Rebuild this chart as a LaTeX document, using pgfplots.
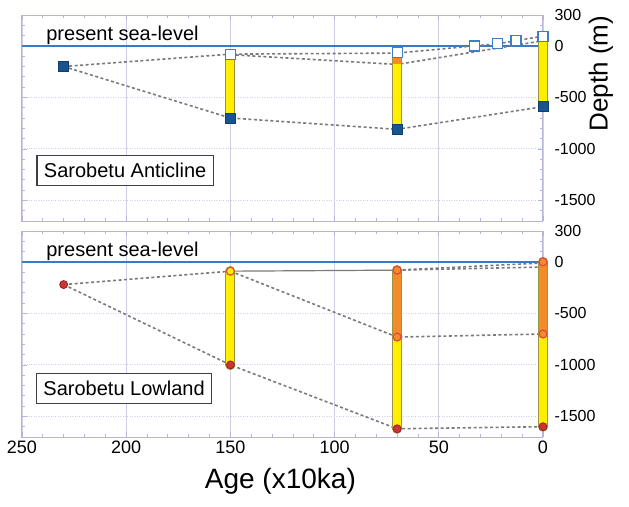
\documentclass[border=0pt]{standalone}
\usepackage{fontspec}
\setmainfont{Liberation Sans}
\usepackage{pgfplots}
\pgfplotsset{compat=1.18}
\definecolor{sealine}{HTML}{3A78C8}
\definecolor{sqfill}{HTML}{17558F}
\definecolor{sqedge}{HTML}{0E3F70}
\definecolor{opsq}{HTML}{3C7FC7}
\definecolor{ycol}{HTML}{FFEE00}
\definecolor{ycoledge}{HTML}{9C9440}
\definecolor{ocol}{HTML}{F28C28}
\definecolor{rfill}{HTML}{CC3333}
\definecolor{redge}{HTML}{992222}
\definecolor{ropen}{HTML}{E04A3A}
\definecolor{dgray}{HTML}{7A7A7A}
\definecolor{lav}{HTML}{B4B4DC}
\definecolor{lavgrid}{HTML}{CFCFEA}
\pgfplotsset{
  panel/.style={
    scale only axis, width=521pt, height=206pt,
    x dir=reverse, xmin=0, xmax=250, ymin=-1700, ymax=300,
    xtick={0,50,...,250}, minor xtick={0,10,...,250},
    ytick={-1500,-1000,-500,0,300}, minor ytick={-1700,-1600,...,300},
    yticklabel pos=right,
    axis line style={lav, line width=1pt},
    tick style={lav, line width=0.8pt},
    major tick length=5pt, minor tick length=3pt,
    xmajorgrids, ymajorgrids,
    major x grid style={lavgrid, line width=0.8pt},
    major y grid style={lavgrid, dotted, line width=1pt},
    /pgf/number format/assume math mode=true,
    /pgf/number format/1000 sep={},
    yticklabel style={font=\fontsize{16}{18}\selectfont, xshift=8pt},
    xticklabel style={font=\fontsize{18}{20}\selectfont},
    clip=false,
  },
  dline/.style={color=dgray, mark=none, line width=1.6pt, dash pattern=on 3pt off 2.5pt},
  sline/.style={color=dgray, mark=none, line width=1.2pt},
  barE/.style={color=ycoledge, mark=none, line width=10pt, line cap=butt},
  barY/.style={color=ycol, mark=none, line width=8pt, line cap=butt},
  barO/.style={color=ocol, mark=none, line width=8pt, line cap=butt},
  barEr/.style={color=ycoledge, mark=none, line width=10pt, line cap=round},
  barYr/.style={color=ycol, mark=none, line width=8pt, line cap=round},
  barOr/.style={color=ocol, mark=none, line width=8pt, line cap=round},
}
\begin{document}
\begin{tikzpicture}
\path[use as bounding box] (-22pt,0pt) rectangle (607pt,-506pt);
% ---------------- top panel ----------------
\begin{axis}[panel, at={(0pt,-15pt)}, anchor=north west, xticklabels={}]
\addplot[color=sealine, mark=none, line width=1.5pt] coordinates {(0,0) (250,0)};
\addplot[dline] coordinates {(230,-200) (150,-80) (70,-70) (33,0) (22,20) (13,50) (0,95)};
\addplot[dline] coordinates {(150,-85) (70,-180) (0,50)};
\addplot[dline] coordinates {(230,-200) (150,-700) (70,-810) (0,-590)};
% bars
\addplot[barE] coordinates {(150,-80) (150,-700)};
\addplot[barY] coordinates {(150,-80) (150,-700)};
\addplot[barE] coordinates {(70,-70) (70,-810)};
\addplot[barY] coordinates {(70,-180) (70,-810)};
\addplot[barO] coordinates {(70,-70) (70,-180)};
\addplot[barE] coordinates {(0,95) (0,-590)};
\addplot[barY] coordinates {(0,40) (0,-590)};
\addplot[barO] coordinates {(0,95) (0,40)};
% markers
\addplot[only marks, mark=square*, mark size=5pt, mark options={fill=sqfill, draw=sqedge, line width=0.8pt}]
  coordinates {(230,-200) (150,-700) (70,-810) (0,-590)};
\addplot[only marks, mark=square*, mark size=5pt, mark options={fill=white, draw=opsq, line width=1.2pt}]
  coordinates {(150,-80) (70,-65) (33,0) (22,20) (13,50) (0,95)};
\node[anchor=base west, font=\fontsize{20}{22}\selectfont] at ([yshift=5pt]axis cs:240,0) {present sea-level};
\node[draw=black!75, line width=1.2pt, fill=white, inner xsep=7pt, minimum height=30pt, font=\fontsize{20}{22}\selectfont]
  at (axis cs:200.5,-1208) {Sarobetu Anticline};
\node[rotate=90, font=\fontsize{26}{28}\selectfont] at ([xshift=58pt]axis cs:0,-270) {Depth (m)};
\end{axis}
% ---------------- bottom panel ----------------
\begin{axis}[panel, at={(0pt,-231pt)}, anchor=north west]
\addplot[color=sealine, mark=none, line width=1.5pt] coordinates {(0,0) (250,0)};
\addplot[dline] coordinates {(230,-220) (150,-90)};
\addplot[sline] coordinates {(150,-90) (70,-80)};
\addplot[dline] coordinates {(70,-80) (0,-50)};
\addplot[dline] coordinates {(70,-80) (0,-10)};
\addplot[dline] coordinates {(150,-90) (70,-730) (0,-700)};
\addplot[dline] coordinates {(230,-220) (150,-1000) (70,-1620) (0,-1600)};
% bars
\addplot[barEr] coordinates {(150,-90) (150,-1000)};
\addplot[barYr] coordinates {(150,-90) (150,-1000)};
\addplot[barEr] coordinates {(70,-80) (70,-1620)};
\addplot[barYr] coordinates {(70,-730) (70,-1620)};
\addplot[barOr] coordinates {(70,-80) (70,-730)};
\addplot[barEr] coordinates {(0,0) (0,-1600)};
\addplot[barYr] coordinates {(0,-700) (0,-1600)};
\addplot[barOr] coordinates {(0,0) (0,-700)};
% markers
\addplot[only marks, mark=*, mark size=4pt, mark options={fill=rfill, draw=redge, line width=0.8pt}]
  coordinates {(230,-220) (150,-1000) (70,-1620) (0,-1600)};
\addplot[only marks, mark=o, mark size=4pt, mark options={draw=ropen, line width=1.2pt}]
  coordinates {(150,-90) (70,-80) (70,-730) (0,0) (0,-700)};
\node[anchor=base west, font=\fontsize{20}{22}\selectfont] at ([yshift=5pt]axis cs:240,0) {present sea-level};
\node[draw=black!75, line width=1.2pt, fill=white, inner xsep=7pt, minimum height=30pt, font=\fontsize{20}{22}\selectfont]
  at (axis cs:201,-1226) {Sarobetu Lowland};
\node[anchor=base, font=\fontsize{28}{30}\selectfont] at ([yshift=-51pt]axis cs:126,-1700) {Age (x10ka)};
\end{axis}
\end{tikzpicture}
\end{document}
